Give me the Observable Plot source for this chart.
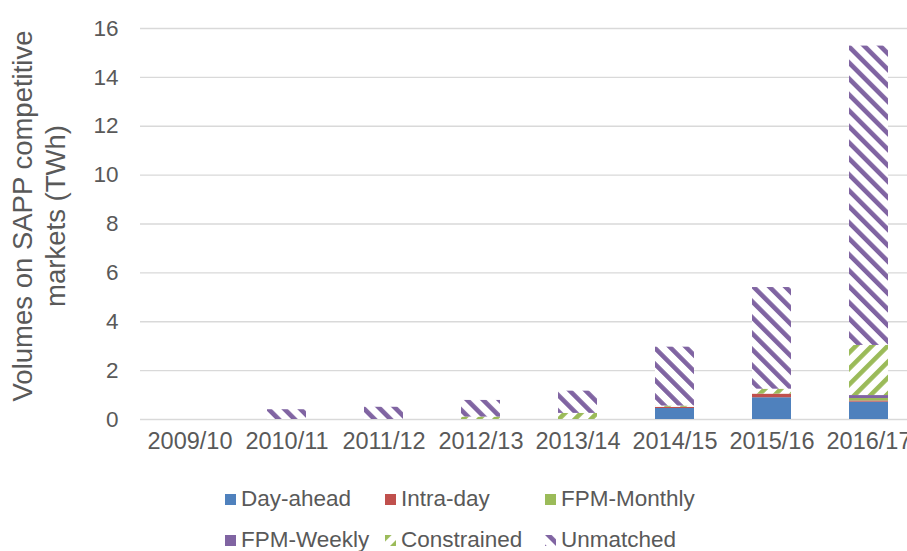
<!DOCTYPE html>
<html>
<head>
<meta charset="utf-8">
<script src="https://cdn.jsdelivr.net/npm/d3@7"></script>
<script src="https://cdn.jsdelivr.net/npm/@observablehq/plot@0.6"></script>
<style>
  html, body { margin: 0; padding: 0; background: #fff; overflow: hidden; }
  #wrap { position: relative; width: 907px; height: 551px; overflow: hidden; font-family: "Liberation Sans", Arial, sans-serif; }
  #chart svg { overflow: hidden; }
  .leg { position: absolute; display: flex; align-items: center; font-size: 22.5px; color: #595959; white-space: nowrap; }
  .leg svg { margin-right: 5px; }
</style>
</head>
<body>
<div id="wrap">
  <div id="chart"></div>
  <div id="legend"></div>
</div>
<script>
const years = ["2009/10","2010/11","2011/12","2012/13","2013/14","2014/15","2015/16","2016/17"];
const seriesNames = ["Day-ahead","Intra-day","FPM-Monthly","FPM-Weekly","Constrained","Unmatched"];
const dayAhead    = [0, 0, 0, 0, 0, 0.45, 0.89, 0.71];
const intraDay    = [0, 0, 0, 0, 0, 0.05, 0.15, 0.05];
const fpmMonthly  = [0, 0, 0, 0, 0, 0, 0, 0.10];
const fpmWeekly   = [0, 0, 0, 0, 0, 0, 0, 0.12];
const constrained = [0, 0, 0, 0.10, 0.25, 0.05, 0.20, 2.05];
const unmatched   = [0, 0.40, 0.50, 0.68, 0.91, 2.41, 4.16, 12.25];
const yTicks = [0, 2, 4, 6, 8, 10, 12, 14, 16];
const yTitle = ["Volumes on SAPP competitive", "markets (TWh)"];

const seriesValues = [dayAhead, intraDay, fpmMonthly, fpmWeekly, constrained, unmatched];
const fills = ["#4F81BD", "#C0504D", "#9BBB59", "#8064A2", "url(#pat-constrained)", "url(#pat-unmatched)"];

const data = [];
seriesNames.forEach((s, i) => years.forEach((y, j) => data.push({year: y, series: s, value: seriesValues[i][j]})));

const chart = Plot.plot({
  width: 907,
  height: 460,
  marginLeft: 140,
  marginRight: -10,
  marginTop: 28,
  marginBottom: 41,
  style: {fontFamily: "Liberation Sans, Arial, sans-serif", fontSize: "22.5px", color: "#595959", background: "#fff", overflow: "hidden"},
  x: {domain: years, paddingInner: 0.6, paddingOuter: 0.3, label: null},
  y: {domain: [0, 16], ticks: yTicks, label: null},
  color: {domain: seriesNames, range: fills},
  marks: [
    Plot.ruleY(yTicks, {stroke: "#d9d9d9", strokeWidth: 1.3}),
    Plot.barY(data, {x: "year", y: "value", fill: "series", order: seriesNames}),
    Plot.axisY({ticks: yTicks, tickSize: 0, tickPadding: 22, fill: "#595959", fontSize: 22.5, label: null}),
    Plot.axisX({tickSize: 0, tickPadding: 13, fill: "#595959", fontSize: 23.5, label: null}),
    Plot.text([yTitle[0]], {frameAnchor: "left", dx: -117, dy: -8, rotate: -90, textAnchor: "middle", fontSize: 27.5, fill: "#595959"}),
    Plot.text([yTitle[1]], {frameAnchor: "left", dx: -84, dy: -8, rotate: -90, textAnchor: "middle", fontSize: 27.5, fill: "#595959"})
  ]
});

// pattern defs
const defs = `
<defs>
  <pattern id="pat-unmatched" patternUnits="userSpaceOnUse" width="11.3" height="11.3" patternTransform="rotate(-45)">
    <rect width="11.3" height="11.3" fill="#fff"/>
    <rect x="0" y="0" width="4.6" height="11.3" fill="#8064A2"/>
  </pattern>
  <pattern id="pat-constrained" patternUnits="userSpaceOnUse" width="11.3" height="11.3" patternTransform="rotate(45)">
    <rect width="11.3" height="11.3" fill="#fff"/>
    <rect x="0" y="0" width="4.6" height="11.3" fill="#9BBB59"/>
  </pattern>
</defs>`;
chart.insertAdjacentHTML("afterbegin", defs);
document.getElementById("chart").appendChild(chart);

// legend
const legPos = [[225, 500], [385, 500], [545, 500], [225, 541], [385, 541], [545, 541]];
const legend = document.getElementById("legend");
seriesNames.forEach((s, i) => {
  const d = document.createElement("div");
  d.className = "leg";
  d.style.left = legPos[i][0] + "px";
  d.style.top = (legPos[i][1] - 14) + "px";
  d.innerHTML = `<svg width="11" height="11"><rect width="11" height="11" fill="${fills[i]}"/></svg><span>${s}</span>`;
  legend.appendChild(d);
});
</script>
</body>
</html>
